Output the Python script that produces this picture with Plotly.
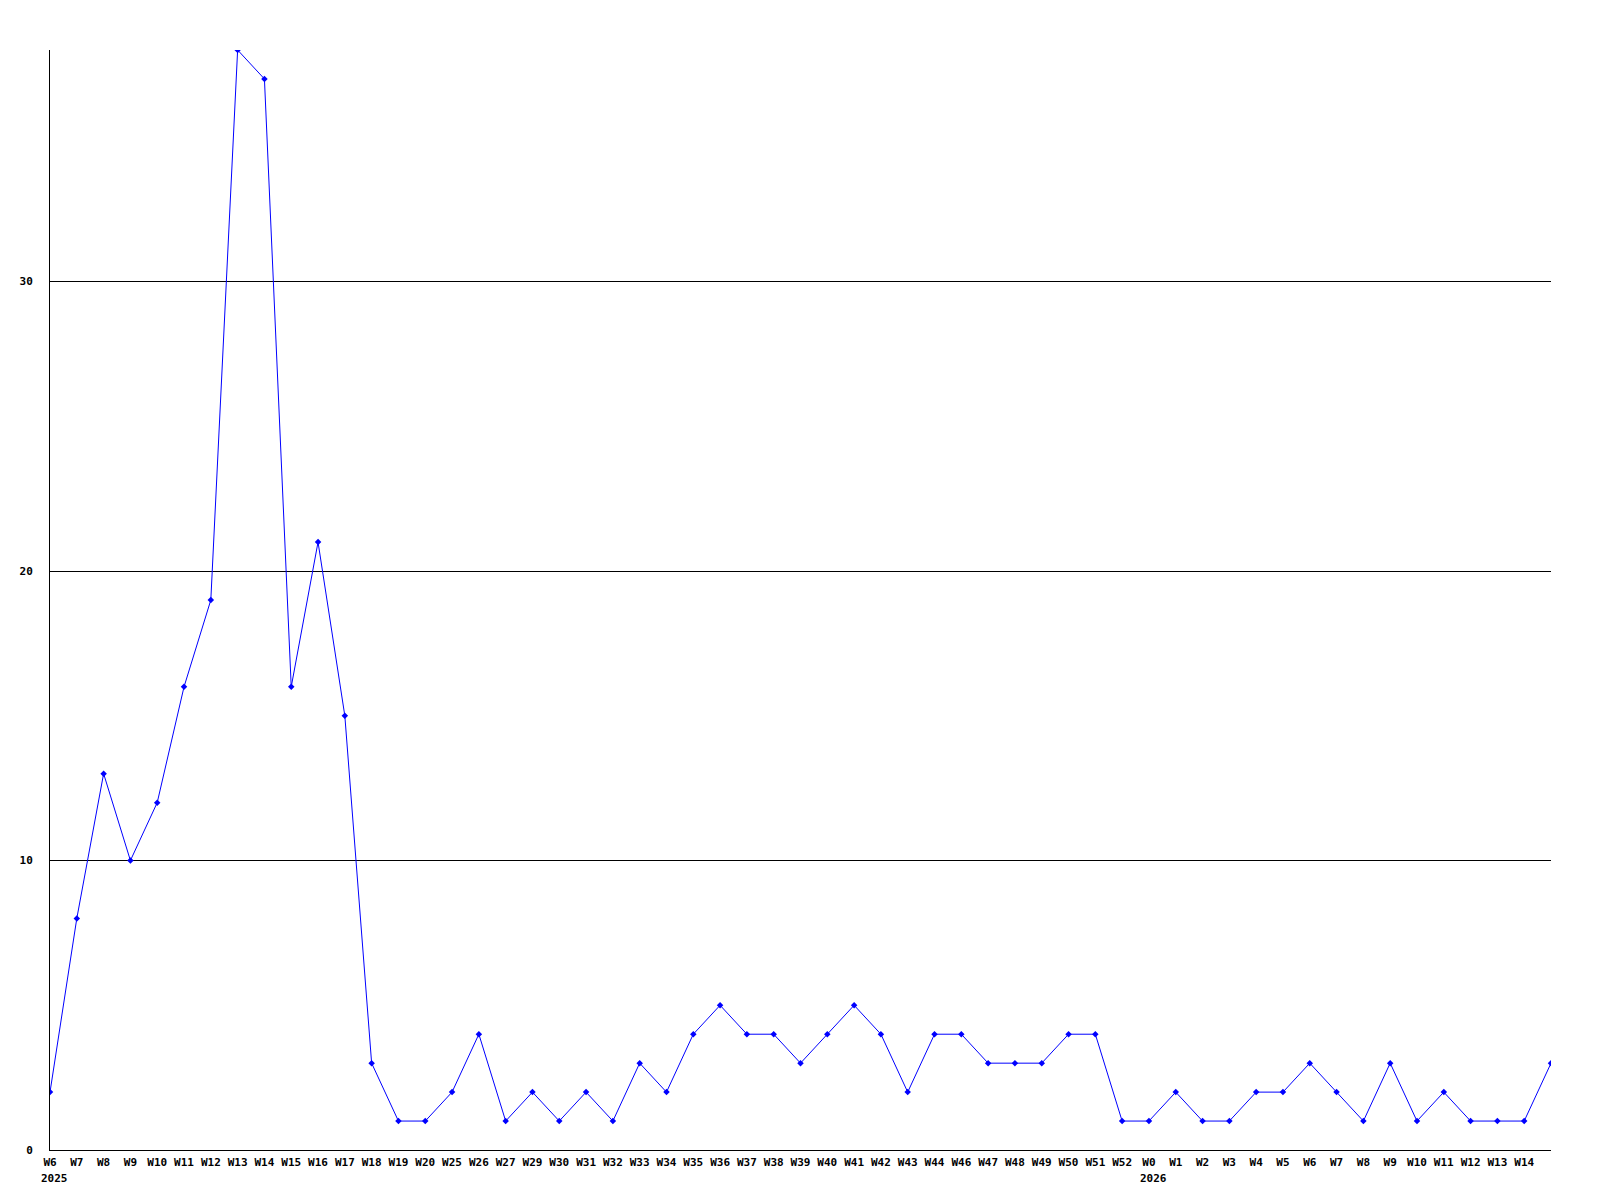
import plotly.graph_objects as go

weeks = ["W6", "W7", "W8", "W9", "W10", "W11", "W12", "W13", "W14", "W15", "W16", "W17", "W18", "W19", "W20",
         "W25", "W26", "W27", "W29", "W30", "W31", "W32", "W33", "W34", "W35", "W36", "W37", "W38", "W39", "W40",
         "W41", "W42", "W43", "W44", "W46", "W47", "W48", "W49", "W50", "W51", "W52",
         "W0", "W1", "W2", "W3", "W4", "W5", "W6", "W7", "W8", "W9", "W10", "W11", "W12", "W13", "W14", ""]
values = [2, 8, 13, 10, 12, 16, 19, 38, 37, 16, 21, 15, 3, 1, 1,
          2, 4, 1, 2, 1, 2, 1, 3, 2, 4, 5, 4, 4, 3, 4,
          5, 4, 2, 4, 4, 3, 3, 3, 4, 4, 1,
          1, 2, 1, 1, 2, 2, 3, 2, 1, 3, 1, 2, 1, 1, 1, 3]
years = [("2025", 0), ("2026", 41)]
y_ticks = [0, 10, 20, 30]

x = list(range(len(values)))
font = dict(family="DejaVu Sans Mono", size=11, color="black")

fig = go.Figure()
fig.add_trace(go.Scatter(
    x=x, y=values, mode="lines+markers",
    line=dict(color="#0000FF", width=1),
    marker=dict(symbol="diamond", size=5, color="#0000FF"),
    hoverinfo="skip", showlegend=False,
))

for label, idx in years:
    fig.add_annotation(x=idx, y=0, xref="x", yref="y", text="<b>%s</b>" % label,
                       showarrow=False, xanchor="left", yanchor="top",
                       xshift=-11, yshift=-20, font=font)

fig.update_layout(
    width=1600, height=1200,
    margin=dict(l=42, r=57, t=42, b=58),
    paper_bgcolor="white", plot_bgcolor="white",
    font=font,
    xaxis=dict(range=[0, len(values) - 1], tickvals=x[:len(weeks)],
               ticktext=["<b>%s</b>" % w for w in weeks],
               showgrid=False, zeroline=False, showline=True, linecolor="black", linewidth=1,
               ticks="", tickangle=0, ticklabelstandoff=2, fixedrange=True),
    yaxis=dict(range=[0, 38], tickvals=y_ticks, ticktext=["<b>%d</b>" % v for v in y_ticks],
               showgrid=True, gridcolor="black", gridwidth=1, zeroline=False,
               showline=True, linecolor="black", linewidth=1, ticks="",
               ticklabelstandoff=14, fixedrange=True),
)

fig.write_html("out.html")
